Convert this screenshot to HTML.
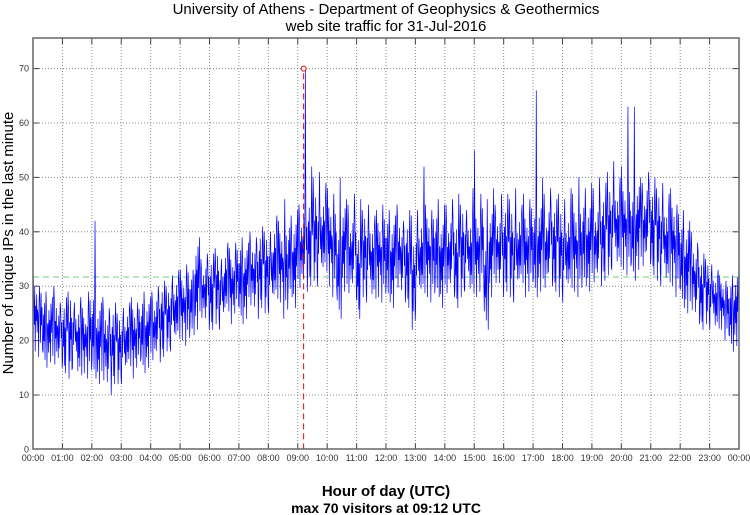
<!DOCTYPE html>
<html><head><meta charset="utf-8"><style>
body{margin:0;background:#fff}
svg{display:block;font-family:"Liberation Sans",sans-serif}
</style></head><body>
<svg id="chart" width="750" height="515">
<text x="386" y="14" text-anchor="middle" font-size="15">University of Athens - Department of Geophysics &amp; Geothermics</text>
<text x="386" y="31" text-anchor="middle" font-size="15">web site traffic for 31-Jul-2016</text>
<g id="grid"></g>
<g id="ticks"></g>
<g id="series"></g>
<rect x="33" y="38" width="706" height="411" fill="none" stroke="#666" stroke-width="1.5"/>
<text transform="translate(13,243) rotate(-90)" text-anchor="middle" font-size="15">Number of unique IPs in the last minute</text>
<text x="386" y="496" text-anchor="middle" font-size="15" font-weight="bold">Hour of day (UTC)</text>
<text x="386" y="513" text-anchor="middle" font-size="14" font-weight="bold">max 70 visitors at 09:12 UTC</text>
</svg>
<script>
const hiVals=[32,30,29,28,30,27, 28,29,27,28,26,29, 42,27,28,26,27,25, 26,27,28,27,29,28,
29,30,31,30,32,33, 33,34,33,39,35,36, 36,37,35,38,37,38, 39,38,40,39,41,40,
40,43,42,46,43,44, 45,70,52,50,51,49, 48,47,50,46,45,47, 46,44,45,43,44,45,
44,43,45,42,44,43, 44,52,45,44,46,45, 45,46,47,45,44,48, 55,47,46,48,45,47,
47,46,48,45,47,46, 66,50,47,48,46,47, 46,48,47,50,48,49, 48,50,49,51,53,50,
52,63,63,50,49,51, 50,48,49,47,48,45, 44,42,40,38,36,35, 34,33,32,31,32,33];
const loVals=[18,17,15,16,14,15, 14,13,15,12,14,13, 13,12,11,10,12,12, 12,14,13,15,14,15,
15,16,17,18,18,19, 20,19,21,22,23,22, 22,23,22,24,23,25, 23,24,25,24,26,25,
25,26,27,24,28,26, 28,29,30,31,30,31, 30,28,24,29,27,28, 24,28,27,26,28,27,
27,26,28,27,26,22, 26,27,28,27,28,26, 27,28,26,28,29,27, 28,29,22,28,29,28,
29,28,27,29,28,29, 28,29,28,30,29,28, 27,28,29,28,30,29, 29,30,31,32,33,32,
33,32,31,33,32,34, 32,31,30,29,30,28, 26,25,24,23,22,23, 22,21,22,20,18,19];
const yTicks=[0,10,20,30,40,50,60,70];
const xTickLabels=["00:00","01:00","02:00","03:00","04:00","05:00","06:00","07:00","08:00","09:00","10:00","11:00","12:00","13:00","14:00","15:00","16:00","17:00","18:00","19:00","20:00","21:00","22:00","23:00","00:00"];
const meanVal=[31.7];
const maxPoint=[552,70];

const NS="http://www.w3.org/2000/svg";
const X0=33,X1=739,Y0=449.4,PER=5.44;
const xs=m=>X0+(X1-X0)*m/1440;
const ys=v=>Y0-PER*v;
function mk(t,a,p){const e=document.createElementNS(NS,t);for(const k in a)e.setAttribute(k,a[k]);p.appendChild(e);return e;}
const grid=document.getElementById('grid'),ticks=document.getElementById('ticks'),ser=document.getElementById('series');
yTicks.forEach(v=>{
  const y=ys(v);
  if(v>0){const g=mk('line',{x1:X0,x2:X1,y1:y,y2:y,stroke:'#888','stroke-width':1,'stroke-dasharray':'1,2'},grid);
  
  
  mk('line',{x1:X0,x2:X0+6,y1:y,y2:y,stroke:'#444'},ticks);
  mk('line',{x1:X1-6,x2:X1,y1:y,y2:y,stroke:'#444'},ticks);}
  const t=mk('text',{x:X0-4,y:y+3,'text-anchor':'end','font-size':9,fill:'#333'},ticks);
  t.textContent=v;
  
  
});
xTickLabels.forEach((l,i)=>{
  const x=xs(i*60);
  if(i>0&&i<24){const g=mk('line',{x1:x,x2:x,y1:38,y2:Y0,stroke:'#888','stroke-width':1,'stroke-dasharray':'1,2'},grid);
  
  
  mk('line',{x1:x,x2:x,y1:Y0-6,y2:Y0,stroke:'#444'},ticks);
  mk('line',{x1:x,x2:x,y1:38,y2:44,stroke:'#444'},ticks);}
  const t=mk('text',{x:x,y:461,'text-anchor':'middle','font-size':9,fill:'#333'},ticks);
  t.textContent=l;
  
  
});
const mean=mk('line',{x1:X0,x2:X1,y1:ys(meanVal[0]),y2:ys(meanVal[0]),stroke:'#7c7','stroke-width':1,'stroke-dasharray':'6,4'},ser);


// within-bin sample shape (fractions of the typical band), one per minute
const shape=[[0.2,0.7,0.35,0.85,0.1,0.6,0.4,0.75,0.25,0.55],[0.6,0.15,0.8,0.3,0.65,0.2,0.9,0.45,0.7,0.1]];
let pts=[];
hiVals.forEach((h,i)=>{
  const lo=loVals[i],m=i*10,sh=shape[i%2];
  const typHi=Math.min(h,lo+17);
  const hiIdx=(i*3)%10,loIdx=(i*7+4)%10;
  for(let k=0;k<10;k++){
    let v=lo+(typHi-lo)*sh[k];
    if(k===hiIdx)v=h; else if(k===loIdx)v=lo;
    pts.push(xs(m+k+0.5)+','+ys(v));
  }
});
const line=mk('polyline',{points:pts.join(' '),fill:'none',stroke:'#00f','stroke-width':0.7},ser);


const vx=xs(maxPoint[0]);
const vl=mk('line',{x1:vx,x2:vx,y1:Y0,y2:ys(maxPoint[1]),stroke:'#e00','stroke-width':1,'stroke-dasharray':'6,4'},ser);


const c=mk('circle',{cx:vx,cy:ys(maxPoint[1]),r:2.5,fill:'#fff',stroke:'#e00','stroke-width':1},ser);


</script>
</body></html>
